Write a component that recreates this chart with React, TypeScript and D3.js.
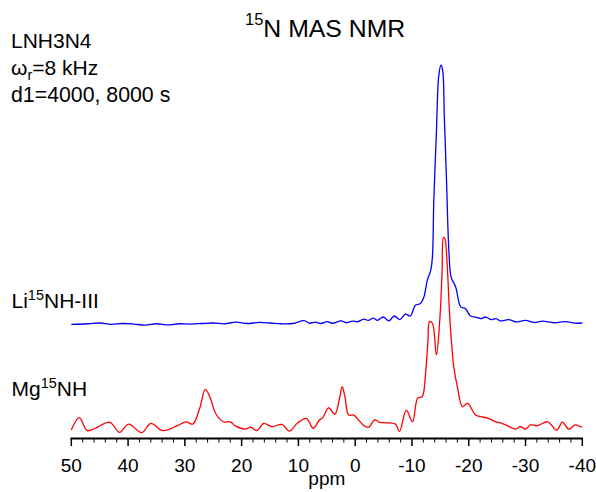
import React from "react";
import * as d3 from "d3";

// Li15NH-III spectrum (blue): [ppm, intensity]
const bluePpm = [50, 47, 45, 43, 41, 39, 37, 35, 33, 31, 29, 27, 25, 23, 21, 19, 17, 15, 13, 11, 9, 8, 7, 6, 5, 4, 2.5, 1.5, 0.5, -0.5, -1.5, -2.3, -3.2, -3.9, -4.4, -5.0, -5.9, -6.9, -7.85, -8.85, -9.7, -10.6, -11.5, -12.1, -12.7, -13.3, -13.6, -13.85, -14.3, -14.7, -15.1, -15.4, -15.7, -16.1, -16.5, -16.9, -17.7, -18.6, -19.4, -20.3, -21.2, -22.1, -23.0, -23.9, -24.8, -25.6, -27, -28.5, -30, -31.5, -33, -35, -37, -39, -40];
const blueVal = [0, 0.2, 0.5, 0, 0.3, 0.1, -0.3, 0.2, -0.2, 0.2, 0.1, 0.3, 0.5, 0.2, 0.8, 0.3, 0.7, 0.5, 0.2, 0.3, 1.4, 0.4, 0.8, 0.3, 1.0, 0.4, 1.3, 0.6, 1.2, 1.0, 2.0, 1.5, 2.4, 1.5, 2.2, 2.8, 1.3, 3.2, 1.8, 3.9, 3.2, 7.3, 8.0, 10.5, 17.0, 20.8, 26.0, 47.8, 73.7, 95.4, 99.9, 98.0, 80.0, 54.4, 28.5, 18.2, 14.4, 6.7, 6.1, 3.2, 2.8, 2.2, 2.8, 1.8, 2.2, 1.3, 1.8, 0.9, 1.5, 0.7, 1.2, 0.6, 1.0, 0.4, 0.5];

// Mg15NH spectrum (red): [ppm, intensity]
const redPpm = [50, 48.6, 47.2, 45.8, 43.2, 41.5, 39.9, 37.6, 36.0, 33.9, 31.4, 29.8, 28.6, 27.4, 26.4, 25.5, 24.6, 23.2, 22.0, 21.1, 19.4, 18.4, 17.3, 16.1, 14.7, 12.9, 11.6, 10.2, 8.6, 7.4, 6.3, 5.7, 4.7, 3.6, 2.8, 2.3, 1.8, 1.15, 0.26, -0.6, -1.6, -2.4, -3.4, -4.3, -5.6, -7.1, -7.8, -9.0, -10.1, -11.0, -11.8, -12.4, -12.8, -13.1, -13.6, -14.3, -14.9, -15.3, -15.55, -15.8, -16.2, -16.6, -17.0, -17.4, -18.0, -18.9, -19.8, -21.2, -22.1, -23.5, -24.7, -25.6, -26.5, -28.3, -29.1, -30.0, -30.9, -32.1, -33.9, -35.5, -36.5, -37.6, -38.8, -39.7, -40];
const redVal = [-0.8, 4.0, -1.0, -0.1, 2.2, -1.7, 1.5, -1.8, 1.8, -1.0, 0.8, 2.4, 1.5, 7.5, 14.9, 11.5, 5.7, 2.4, 2.4, 0.8, -0.4, 0.3, -1.0, 1.8, 0.5, 1.4, -1.2, 1.8, 3.7, -0.1, 3.1, 4.0, 7.8, 5.3, 11.0, 15.9, 12.0, 5.0, 5.0, 3.1, 0.8, 0.3, 3.1, 2.2, 2.0, 1.5, -1.4, 6.9, 2.4, 11.5, 12.1, 21.2, 33.0, 41.0, 40.4, 28.2, 41.7, 60.0, 73.5, 73.0, 63.0, 45.0, 32.0, 23.0, 15.9, 8.2, 9.5, 5.0, 4.4, 3.7, 2.4, 2.0, 1.2, -0.4, 0.5, -0.4, 1.2, 0.9, 2.4, -0.8, 2.3, -0.4, 1.2, 0.5, 0.4];

const blueOffset = 40;
const xTickLabels = [50, 40, 30, 20, 10, 0, -10, -20, -30, -40];
const minorTicks = d3.range(-40, 51, 2);

const FONT = "'Liberation Sans', Arial, sans-serif";

export default function App() {
  const W = 596;
  const H = 492;
  const x = d3.scaleLinear().domain([50, -40]).range([71.3, 582.3]);
  const y = d3.scaleLinear().domain([0, 140]).range([428, 65]);
  const line = d3
    .line<[number, number]>()
    .x((d) => x(d[0]))
    .y((d) => y(d[1]))
    .curve(d3.curveCatmullRom.alpha(0.5));

  const blueData: [number, number][] = bluePpm.map((p, i) => [p, blueVal[i] + blueOffset]);
  const redData: [number, number][] = redPpm.map((p, i) => [p, redVal[i]]);
  const axisY = 438.5;

  return (
    <svg
      width={W}
      height={H}
      style={{ position: "fixed", left: 0, top: 0, background: "#fff" }}
      fontFamily={FONT}
    >
      <rect x={0} y={0} width={W} height={H} fill="#fff" />
      {/* title */}
      <text x={245} y={37.3} fontSize={24.8} fill="#000">
        <tspan fontSize={16.5} dy={-12}>15</tspan>
        <tspan dy={12}>N MAS NMR</tspan>
      </text>
      {/* info text */}
      <text x={11} y={48} fontSize={21} fill="#000">LNH3N4</text>
      <text x={11} y={75} fontSize={21} fill="#000">
        <tspan>ω</tspan>
        <tspan fontSize={14.5} dy={5}>r</tspan>
        <tspan dy={-5}>=8 kHz</tspan>
      </text>
      <text x={11} y={101.5} fontSize={21.3} fill="#000">d1=4000, 8000 s</text>
      {/* spectrum labels */}
      <text x={11.5} y={308} fontSize={21} fill="#000">
        <tspan>Li</tspan>
        <tspan fontSize={14.5} dy={-8.5}>15</tspan>
        <tspan dy={8.5}>NH-III</tspan>
      </text>
      <text x={11.5} y={396} fontSize={21} fill="#000">
        <tspan>Mg</tspan>
        <tspan fontSize={14.5} dy={-8.5}>15</tspan>
        <tspan dy={8.5}>NH</tspan>
      </text>
      {/* spectra */}
      <path d={line(blueData) || ""} fill="none" stroke="#0000ff" strokeWidth={1.3} />
      <path d={line(redData) || ""} fill="none" stroke="#ff0000" strokeWidth={1.3} />
      {/* axis */}
      <line x1={x(50) - 0.75} x2={x(-40) + 0.75} y1={axisY} y2={axisY} stroke="#000" strokeWidth={1.8} />
      {minorTicks.map((t) => {
        const major = t % 10 === 0;
        return (
          <line
            key={t}
            x1={x(t)}
            x2={x(t)}
            y1={axisY}
            y2={axisY + (major ? 7.5 : 4)}
            stroke="#000"
            strokeWidth={major ? 1.5 : 1}
          />
        );
      })}
      {xTickLabels.map((t) => (
        <text key={t} x={x(t)} y={471.7} fontSize={19} textAnchor="middle" fill="#000">
          {t}
        </text>
      ))}
      <text x={(x(50) + x(-40)) / 2} y={484.5} fontSize={19} textAnchor="middle" fill="#000">
        ppm
      </text>
    </svg>
  );
}
